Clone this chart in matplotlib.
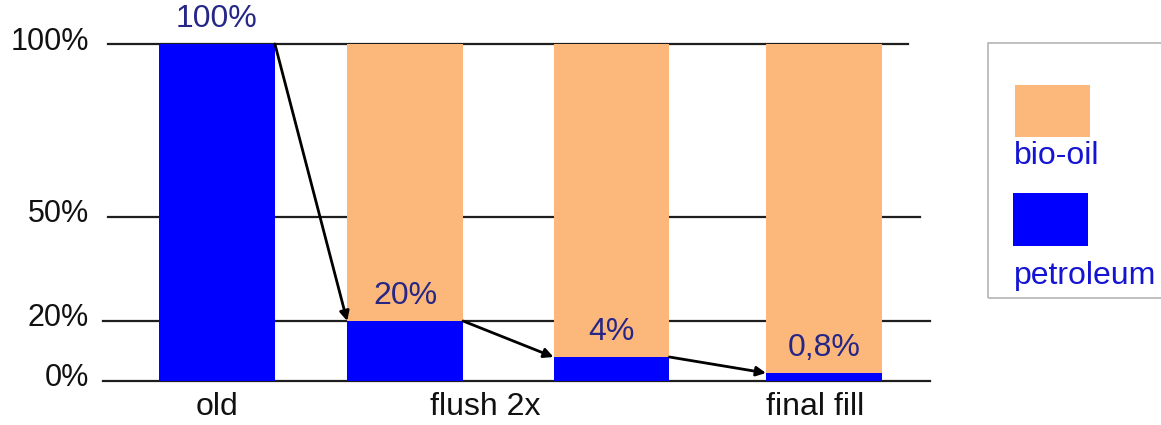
import matplotlib
matplotlib.use("Agg")
import matplotlib.pyplot as plt
import matplotlib.transforms as mtransforms
import numpy as np
from matplotlib.patches import Rectangle

plt.rcParams['font.family'] = ['Liberation Sans', 'DejaVu Sans']

# Données : part de pétrole / bio-huile à chaque étape
stages = ['old', 'flush 1', 'flush 2', 'final fill']
petroleum = [100, 20, 4, 0.8]
bio_oil = [0, 80, 96, 99.2]
tick_values = [0, 20, 50, 100]
tick_labels = ['0%', '20%', '50%', '100%']
xlabels = ['old', 'flush 2x', 'final fill']

# Couleurs
c_petro = '#0000ff'
c_bio = '#fbb87a'
c_value = '#262687'
c_legend = '#1414d2'

W, H = 1161, 425
fig = plt.figure(figsize=(W / 100, H / 100), dpi=100)

def fx(px):
    return px / W

def fy(py):
    return 1 - py / H

ax = fig.add_axes([fx(100), fy(381), fx(935) - fx(100), fy(44) - fy(381)])

# Échelle verticale étirée près de zéro (pour voir les petites valeurs)
knots_v = [0, 0.8, 4, 20, 50, 100]
knots_p = [0, 8, 24, 60, 164, 337]
ax.set_yscale('function', functions=(lambda v: np.interp(v, knots_v, knots_p),
                                     lambda p: np.interp(p, knots_p, knots_v)))

x = [0, 0.93, 1.95, 3.0]
width = 0.573

# Lignes horizontales derrière les barres
grid_spans = {100: (0.010, 0.968), 50: (0.010, 0.982), 20: (0.004, 0.994), 0: (0.004, 0.994)}
for v, (x0, x1) in grid_spans.items():
    ax.axhline(v, xmin=x0, xmax=x1, color='#1e1e1e', lw=1.6, zorder=1, clip_on=False)

ax.bar(x, petroleum, width=width, color=c_petro, zorder=2)
ax.bar(x, bio_oil, width=width, bottom=petroleum, color=c_bio, zorder=2)

# Valeurs au-dessus des barres de pétrole
for xi, v in zip(x, petroleum):
    txt = f"{v:g}%".replace('.', ',')
    ax.annotate(txt, (xi, v), xytext=(0, 25), textcoords='offset pixels',
                ha='center', va='center', fontsize=23, color=c_value, zorder=4,
                annotation_clip=False)

# Flèches entre les étapes
for i in range(len(x) - 1):
    ax.annotate('', xy=(x[i + 1] - width / 2, petroleum[i + 1]),
                xytext=(x[i] + width / 2, petroleum[i]),
                arrowprops=dict(arrowstyle='-|>', color='black', lw=2,
                                mutation_scale=14, shrinkA=0, shrinkB=0),
                zorder=5)

ax.set_xlim(-0.578, 3.549)
ax.set_ylim(0, 100)
ax.set_yticks(tick_values)
ax.set_yticklabels(tick_labels)
ax.set_xticks([0, 1.325, 2.956])
ax.set_xticklabels(xlabels)
ax.tick_params(axis='y', length=0, pad=8, labelsize=22, labelcolor='#111111')
ax.tick_params(axis='x', length=0, pad=8, labelsize=23, labelcolor='#111111')

# Étiquettes de l'axe y un peu au-dessus des lignes
shift = mtransforms.ScaledTranslation(0, 6 / 100, fig.dpi_scale_trans)
for lbl in ax.get_yticklabels():
    lbl.set_transform(lbl.get_transform() + shift)

for s in ax.spines.values():
    s.set_visible(False)
ax.patch.set_alpha(0)

# Légende dessinée à la main (texte sous chaque carré)
fig.add_artist(Rectangle((fx(988), fy(298)), fx(1175) - fx(988), fy(43) - fy(298),
                         transform=fig.transFigure, fill=False, ec='#b5b5b5', lw=1.2))
fig.add_artist(Rectangle((fx(1015), fy(137)), fx(1090) - fx(1015), fy(85) - fy(137),
                         transform=fig.transFigure, color=c_bio, lw=0))
fig.add_artist(Rectangle((fx(1013), fy(246)), fx(1088) - fx(1013), fy(193) - fy(246),
                         transform=fig.transFigure, color=c_petro, lw=0))
fig.text(fx(1014), fy(156), 'bio-oil', fontsize=23, color=c_legend, ha='left', va='center')
fig.text(fx(1014), fy(276), 'petroleum', fontsize=23, color=c_legend, ha='left', va='center')

fig.savefig('out.png', dpi=100, facecolor='white')
